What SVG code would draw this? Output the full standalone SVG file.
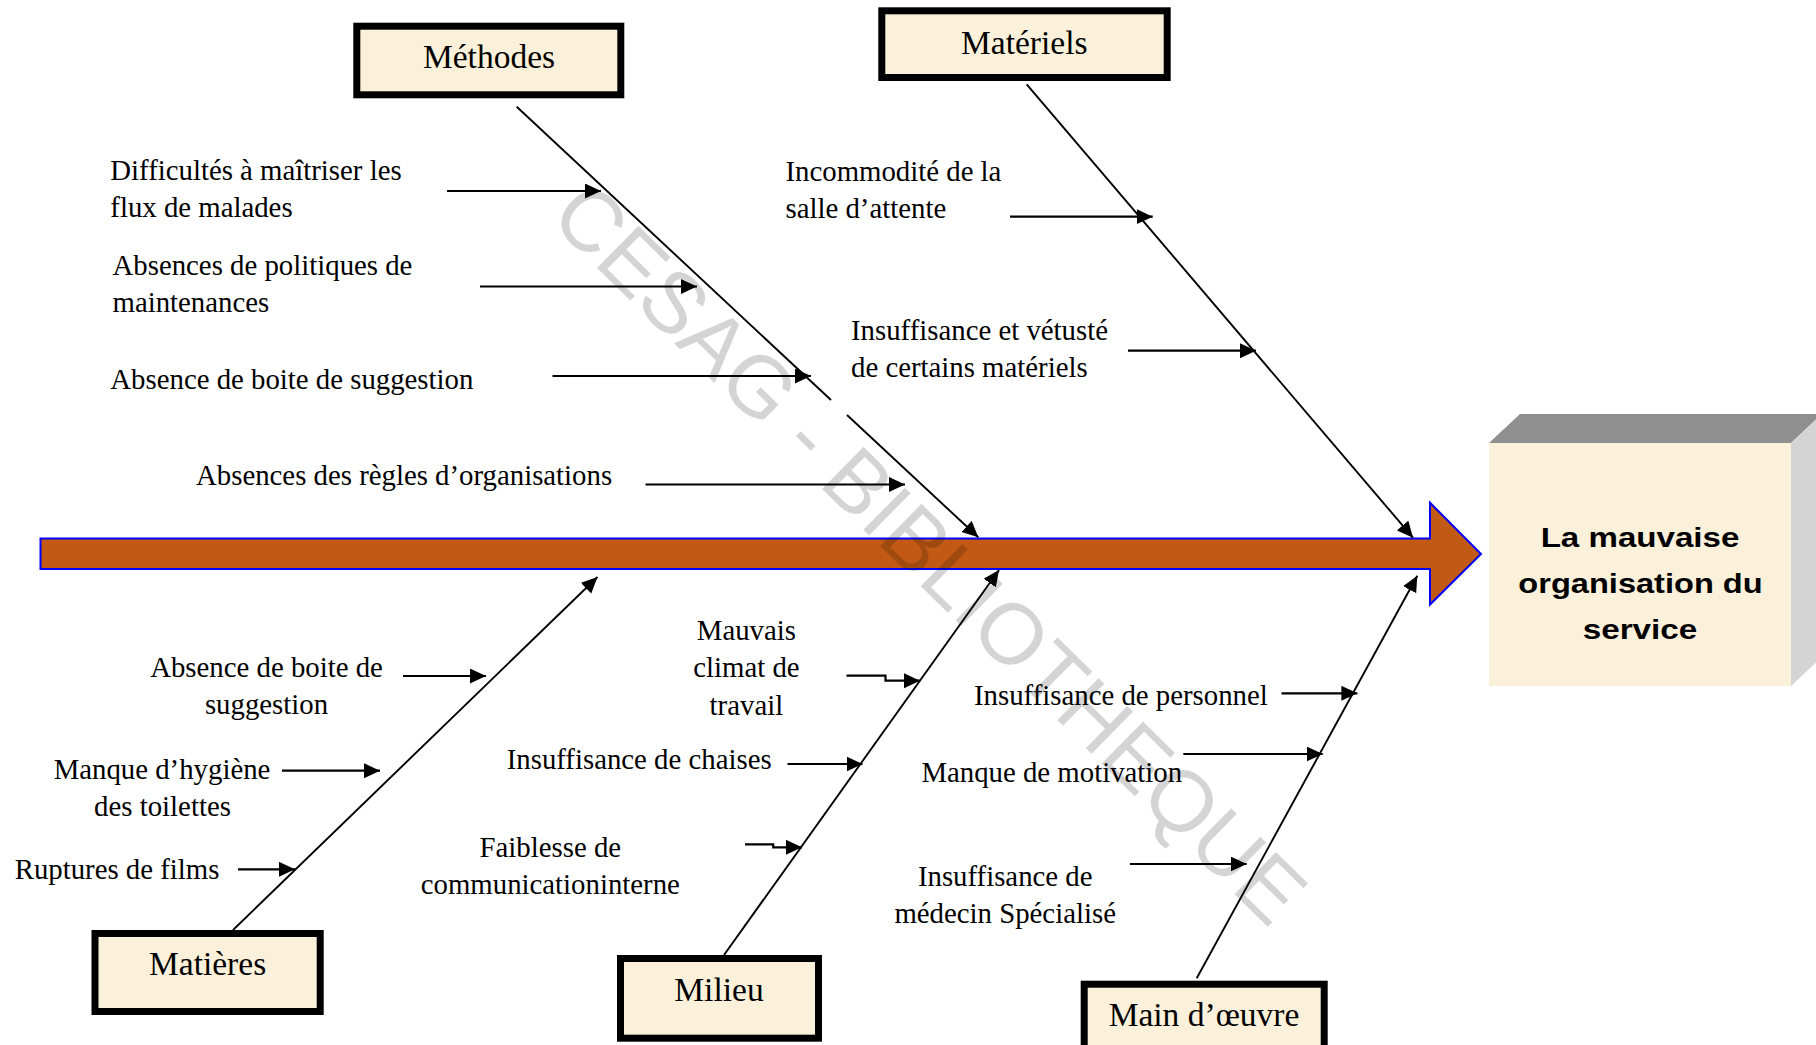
<svg xmlns="http://www.w3.org/2000/svg" width="1816" height="1045" viewBox="0 0 1816 1045">
<style>
.lbl{font-family:"Liberation Serif","Times New Roman",serif;font-size:28.8px;fill:#000}
.mid{text-anchor:middle}
.cat{font-family:"Liberation Serif","Times New Roman",serif;font-size:33.5px;fill:#000;text-anchor:middle}
.catbox{fill:#fbf0d9;stroke:#000;stroke-width:7}
.bone{stroke:#000;stroke-width:1.9;fill:none}
.sub{stroke:#000;stroke-width:2.2;fill:none}
.eff{font-family:"Liberation Sans",Arial,sans-serif;font-weight:bold;font-size:28px;fill:#000;text-anchor:middle}
.wm{font-family:"Liberation Sans",Arial,sans-serif;font-size:86px;fill:#000;fill-opacity:0.17}
</style>
<defs>
<marker id="ah" markerUnits="userSpaceOnUse" markerWidth="18" markerHeight="16" refX="16" refY="7.5" orient="auto">
<path d="M0,0 L16,7.5 L0,15 z" fill="#000"/>
</marker>
</defs>
<rect width="1816" height="1045" fill="#fff"/>

<g id="spine">
<polygon points="40.5,538.5 1430,538.5 1430,502.7 1481,554 1430,604.5 1430,569 40.5,569" fill="#c25914" stroke="#0000ff" stroke-width="2"/>
</g>

<g id="effect">
<polygon points="1489,443 1520,414 1822,414 1791,443" fill="#8f8f8f"/>
<polygon points="1791,443 1822,414 1822,657 1791,686" fill="#d4d4d4"/>
<rect x="1489" y="443" width="302" height="243" fill="#fbf0d9"/>
<text class="eff" x="1640" y="547.3" textLength="198.7" lengthAdjust="spacingAndGlyphs">La mauvaise</text>
<text class="eff" x="1640.5" y="593.3" textLength="244.3" lengthAdjust="spacingAndGlyphs">organisation du</text>
<text class="eff" x="1640" y="639.3" textLength="114.7" lengthAdjust="spacingAndGlyphs">service</text>
</g>

<g id="cat-methodes">
<rect class="catbox" x="356.8" y="26.2" width="264" height="68.6"/>
<text class="cat" x="489" y="67.5">Méthodes</text>
</g>
<g id="cat-materiels">
<rect class="catbox" x="881.8" y="10.8" width="285.4" height="66.7"/>
<text class="cat" x="1024.3" y="54">Matériels</text>
</g>
<g id="cat-matieres">
<rect class="catbox" x="95" y="933.5" width="225.2" height="78"/>
<text class="cat" x="207.6" y="975">Matières</text>
</g>
<g id="cat-milieu">
<rect class="catbox" x="620.5" y="958.5" width="198" height="79.7"/>
<text class="cat" x="719" y="1000.7">Milieu</text>
</g>
<g id="cat-main-oeuvre">
<rect class="catbox" x="1084.2" y="984.2" width="240" height="75"/>
<text class="cat" x="1204" y="1025.5">Main d’œuvre</text>
</g>

<g id="connectors">
<line class="bone" x1="516.7" y1="106.7" x2="831" y2="400"/>
<line class="bone" x1="847" y1="415" x2="978.3" y2="537.3" marker-end="url(#ah)"/>
<line class="bone" x1="1026.7" y1="84.3" x2="1413" y2="537.7" marker-end="url(#ah)"/>
<line class="bone" x1="233" y1="930" x2="597.5" y2="577" marker-end="url(#ah)"/>
<line class="bone" x1="724" y1="955" x2="999" y2="570" marker-end="url(#ah)"/>
<line class="bone" x1="1196.7" y1="978.3" x2="1417.3" y2="575.7" marker-end="url(#ah)"/>
<line class="sub" x1="447" y1="191" x2="601" y2="191" marker-end="url(#ah)"/>
<line class="sub" x1="480" y1="286.5" x2="697" y2="286.5" marker-end="url(#ah)"/>
<line class="sub" x1="552.5" y1="376" x2="811" y2="376" marker-end="url(#ah)"/>
<line class="sub" x1="645.5" y1="484.5" x2="905" y2="484.5" marker-end="url(#ah)"/>
<line class="sub" x1="1010" y1="216.7" x2="1152.7" y2="216.7" marker-end="url(#ah)"/>
<line class="sub" x1="1128" y1="350.7" x2="1256" y2="350.7" marker-end="url(#ah)"/>
<line class="sub" x1="403" y1="676" x2="486" y2="676" marker-end="url(#ah)"/>
<line class="sub" x1="282" y1="770.7" x2="380" y2="770.7" marker-end="url(#ah)"/>
<line class="sub" x1="238" y1="869.3" x2="295" y2="869.3" marker-end="url(#ah)"/>
<polyline class="sub" points="846.5,675.7 885.5,675.7 885.5,680.7 920,680.7" marker-end="url(#ah)"/>
<line class="sub" x1="787.5" y1="764" x2="862.5" y2="764" marker-end="url(#ah)"/>
<polyline class="sub" points="745,844.3 773.2,844.3 773.2,847.3 802,847.3" marker-end="url(#ah)"/>
<line class="sub" x1="1281.5" y1="693.3" x2="1357.4" y2="693.3" marker-end="url(#ah)"/>
<line class="sub" x1="1183.3" y1="754" x2="1322.7" y2="754" marker-end="url(#ah)"/>
<line class="sub" x1="1130" y1="864" x2="1246.7" y2="864" marker-end="url(#ah)"/>
</g>

<g id="causes">
<text class="lbl" x="110.3" y="179.5">Difficultés à maîtriser les</text>
<text class="lbl" x="110.3" y="216.5">flux de malades</text>
<text class="lbl" x="112.5" y="274.5">Absences de politiques de</text>
<text class="lbl" x="112.5" y="311.5">maintenances</text>
<text class="lbl" x="110.3" y="389">Absence de boite de suggestion</text>
<text class="lbl" x="196" y="485">Absences des règles d’organisations</text>
<text class="lbl" x="785.5" y="180.7">Incommodité de la</text>
<text class="lbl" x="785.5" y="217.5">salle d’attente</text>
<text class="lbl" x="851" y="339.5">Insuffisance et vétusté</text>
<text class="lbl" x="851" y="376.7">de certains matériels</text>
<text class="lbl mid" x="266.5" y="677">Absence de boite de</text>
<text class="lbl mid" x="266.5" y="714">suggestion</text>
<text class="lbl mid" x="162" y="778.5">Manque d’hygiène</text>
<text class="lbl mid" x="162.5" y="815.5">des toilettes</text>
<text class="lbl" x="14.7" y="879">Ruptures de films</text>
<text class="lbl mid" x="746.4" y="640">Mauvais</text>
<text class="lbl mid" x="746.4" y="677.3">climat de</text>
<text class="lbl mid" x="746.4" y="714.5">travail</text>
<text class="lbl" x="506.7" y="768.5">Insuffisance de chaises</text>
<text class="lbl mid" x="550.3" y="856.5">Faiblesse de</text>
<text class="lbl mid" x="550.3" y="893.5">communicationinterne</text>
<text class="lbl" x="974" y="705">Insuffisance de personnel</text>
<text class="lbl" x="921.4" y="781.7">Manque de motivation</text>
<text class="lbl mid" x="1005.2" y="886">Insuffisance de</text>
<text class="lbl mid" x="1005.2" y="923.3">médecin Spécialisé</text>
</g>

<g id="watermark">
<text class="wm" transform="translate(547.7,219.4) rotate(44.5)">CESAG - BIBLIOTHEQUE</text>
</g>
</svg>
